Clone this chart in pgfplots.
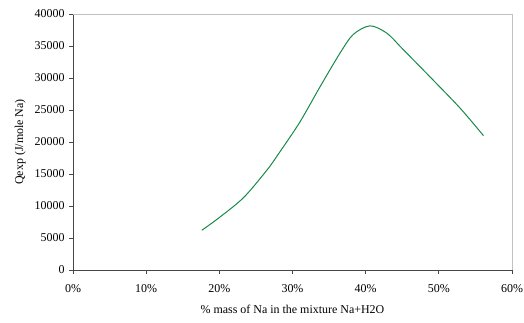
\documentclass[border=0pt]{standalone}
\usepackage{pgfplots}
\pgfplotsset{compat=1.18}
\usepackage{fontspec}
\setmainfont{Liberation Serif}
\definecolor{curve}{RGB}{22,138,72}
\definecolor{darkax}{RGB}{70,70,70}
\definecolor{lightax}{RGB}{192,192,192}
\begin{document}
\begin{tikzpicture}
\useasboundingbox (-73bp,-53bp) rectangle (451bp,270bp);
\begin{axis}[
  at={(0,0)}, anchor=south west,
  scale only axis, width=439bp, height=256bp,
  xmin=0, xmax=60, ymin=0, ymax=40000,
  axis x line=bottom, axis y line=left,
  axis line style={-, darkax, line width=0.9pt},
  xtick={0,10,...,60}, ytick={0,5000,...,40000},
  xticklabel={\pgfmathprintnumber{\tick}\%},
  tick align=outside, major tick length=4bp,
  tick style={darkax, line width=0.8pt},
  /pgf/number format/assume math mode=true,
  /pgf/number format/fixed,
  /pgf/number format/1000 sep={},
  scaled y ticks=false,
  ticklabel style={font=\fontsize{12}{14}\selectfont},
  xticklabel style={yshift=-7bp},
  yticklabel style={xshift=-1bp},
  xlabel={\% mass of Na in the mixture Na+H2O},
  ylabel={Qexp (J/mole Na)},
  label style={font=\fontsize{12}{14}\selectfont},
  xlabel style={yshift=-6bp},
  ylabel style={yshift=2bp},
  clip=false,
]
\draw[lightax, line width=0.9pt] (rel axis cs:0,1) -- (rel axis cs:1,1) -- (rel axis cs:1,0);
\addplot[curve, line width=1pt, smooth, tension=0.5] coordinates {
  (17.6,6200) (20,8200) (23.3,11300) (26.5,15600) (28.3,18500) (31,23100)
  (33.8,28700) (36.5,33900) (38.3,36800) (40.6,38150) (42.9,37000)
  (45,34600) (49.2,29700) (52.9,25300) (56.1,21000)
};
\end{axis}
\end{tikzpicture}
\end{document}
